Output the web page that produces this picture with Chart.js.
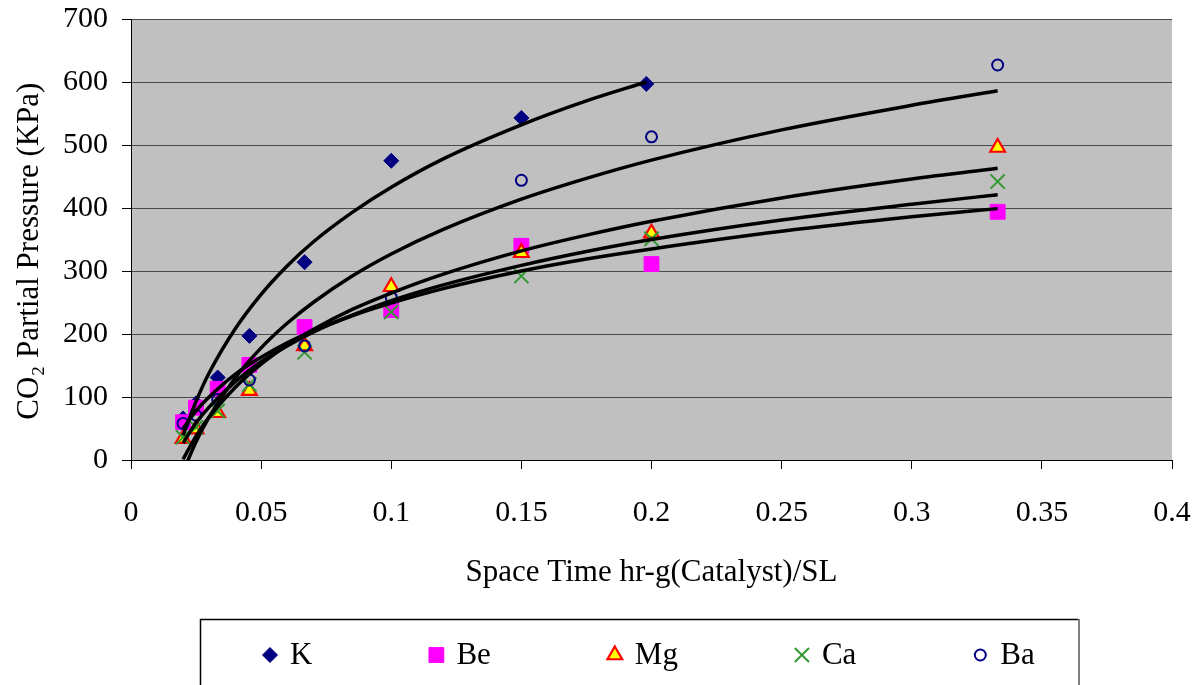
<!DOCTYPE html>
<html><head><meta charset="utf-8">
<script src="https://cdn.jsdelivr.net/npm/chart.js@4.4.0/dist/chart.umd.min.js"></script>
<style>html,body{margin:0;padding:0;background:#fff;overflow:hidden}canvas{display:block}</style>
</head><body>
<canvas id="c" width="1199" height="685"></canvas>
<script>
// ---- data ----
const seriesNames = ['K', 'Be', 'Mg', 'Ca', 'Ba'];
const xK = [0.02, 0.025, 0.0333, 0.0455, 0.0667, 0.1, 0.15, 0.198];
const xOther = [0.02, 0.025, 0.0333, 0.0455, 0.0667, 0.1, 0.15, 0.2, 0.333];
const valK = [66, 90, 131, 197, 314, 475, 543, 597];
const valBe = [60, 83, 113, 151, 211, 238, 340, 311, 394];
const valMg = [34, 49, 75, 110, 181, 275, 329, 360, 496];
const valCa = [36, 52, 78, 120, 171, 235, 292, 351, 442];
const valBa = [58, 71, 96, 127, 181, 258, 444, 513, 627];

// trend lines (logarithmic trend curves)
const trendXK = [0.02, 0.025, 0.03, 0.04, 0.05, 0.06, 0.07, 0.085, 0.1, 0.12, 0.15, 0.175, 0.198];
const trendK = [39, 93, 138, 208, 263, 308, 346, 393, 433, 478, 532, 570, 600];
const trendX = [0.02, 0.025, 0.03, 0.04, 0.05, 0.06, 0.07, 0.085, 0.1, 0.12, 0.15, 0.175, 0.2, 0.25, 0.3, 0.333];
const trendBe = [50, 78, 100, 136, 163, 186, 205, 229, 249, 272, 300, 319, 335, 363, 386, 399];
const trendMg = [1, 38, 68, 115, 152, 182, 207, 239, 265, 295, 332, 357, 379, 416, 446, 463];
const trendCa = [27, 59, 84, 124, 156, 181, 203, 230, 253, 278, 309, 331, 350, 381, 406, 421];
const trendBa = [-19, 29, 68, 130, 178, 217, 250, 292, 327, 366, 414, 447, 476, 524, 563, 586];

const xTickLabels = ['0', '0.05', '0.1', '0.15', '0.2', '0.25', '0.3', '0.35', '0.4'];
const yTickLabels = ['0', '100', '200', '300', '400', '500', '600', '700'];

// ---- build datasets ----
const pts = (xs, ys) => xs.map((x, i) => ({x: x, y: ys[i]}));
const serif = '"Liberation Serif", "Times New Roman", serif';

const seriesStyles = {
  K:  {pointStyle: 'rectRot', pointRadius: 7.5, backgroundColor: '#000080', borderColor: '#000080', borderWidth: 1},
  Be: {pointStyle: 'rect', pointRadius: 10.5, backgroundColor: '#FF00FF', borderColor: '#FF00FF', borderWidth: 1},
  Mg: {pointStyle: 'triangle', pointRadius: 8.5, backgroundColor: '#FFFF00', borderColor: '#FF0000', borderWidth: 2.2},
  Ca: {pointStyle: 'crossRot', pointRadius: 10, backgroundColor: '#339933', borderColor: '#339933', borderWidth: 2},
  Ba: {pointStyle: 'circle', pointRadius: 5.5, backgroundColor: 'rgba(0,0,0,0)', borderColor: '#000080', borderWidth: 2}
};
const seriesData = {
  K: pts(xK, valK), Be: pts(xOther, valBe), Mg: pts(xOther, valMg), Ca: pts(xOther, valCa), Ba: pts(xOther, valBa)
};
const trendData = {
  K: pts(trendXK, trendK), Be: pts(trendX, trendBe), Mg: pts(trendX, trendMg), Ca: pts(trendX, trendCa), Ba: pts(trendX, trendBa)
};

const datasets = [];
seriesNames.forEach((name) => {
  datasets.push({
    label: name + ' trend', data: trendData[name], showLine: true, pointRadius: 0,
    borderColor: '#000000', borderWidth: 3.5, cubicInterpolationMode: 'monotone',
    order: 0, isTrend: true
  });
});
seriesNames.forEach((name, i) => {
  datasets.push(Object.assign({
    label: name, data: seriesData[name], showLine: false, order: 10 - i, isSeries: true
  }, seriesStyles[name]));
});

// ---- plugins ----
const plotBg = {
  id: 'plotBg',
  beforeDraw(chart) {
    const a = chart.chartArea, ctx = chart.ctx;
    ctx.save();
    ctx.fillStyle = '#C0C0C0';
    ctx.fillRect(a.left, a.top, a.right - a.left, a.bottom - a.top);
    ctx.restore();
  }
};

function drawMarker(ctx, st, x, y) {
  ctx.save();
  ctx.fillStyle = st.backgroundColor;
  ctx.strokeStyle = st.borderColor;
  ctx.lineWidth = st.borderWidth;
  if (Chart.helpers && Chart.helpers.drawPoint) {
    Chart.helpers.drawPoint(ctx, {pointStyle: st.pointStyle, radius: st.pointRadius, borderWidth: st.borderWidth, rotation: 0}, x, y);
  }
  ctx.restore();
}

const legendBox = {
  id: 'legendBox',
  afterDraw(chart) {
    const ctx = chart.ctx;
    ctx.save();
    ctx.fillStyle = '#ffffff';
    ctx.fillRect(200, 619, 879, 80);
    ctx.strokeStyle = '#000';
    ctx.lineWidth = 1.5;
    ctx.beginPath();
    ctx.moveTo(200.5, 700); ctx.lineTo(200.5, 619.5); ctx.lineTo(1078.5, 619.5); ctx.stroke();
    ctx.strokeStyle = '#808080';
    ctx.lineWidth = 2;
    ctx.beginPath(); ctx.moveTo(1079, 619); ctx.lineTo(1079, 700); ctx.stroke();
    ctx.font = '31px ' + serif;
    ctx.textBaseline = 'middle';
    ctx.textAlign = 'left';
    let x = 270;
    const y = 655;
    chart.data.datasets.filter(d => d.isSeries).forEach(ds => {
      drawMarker(ctx, ds, x, y);
      ctx.fillStyle = '#000';
      ctx.fillText(ds.label, x + 20, y + 1);
      x += 20 + ctx.measureText(ds.label).width + 124;
    });
    ctx.restore();
  }
};

new Chart(document.getElementById('c'), {
  type: 'scatter',
  data: {datasets: datasets},
  options: {
    responsive: false, animation: false, events: [], devicePixelRatio: 1,
    layout: {padding: {left: 0, right: 27, top: 19, bottom: 85}},
    plugins: {legend: {display: false}, tooltip: {enabled: false}},
    scales: {
      x: {
        type: 'linear', min: 0, max: 0.4,
        ticks: {stepSize: 0.05, autoSkip: false, maxRotation: 0, padding: 26, color: '#000',
          font: {family: serif, size: 30}, callback: (v, i) => xTickLabels[i]},
        grid: {drawOnChartArea: false, tickLength: 9, tickColor: '#000', color: '#000'},
        border: {color: '#000', width: 1},
        title: {display: true, text: 'Space Time hr-g(Catalyst)/SL', color: '#000',
          font: {family: serif, size: 31}, padding: {top: 0, bottom: 9}},
        afterFit: s => { s.height = 140; s.paddingLeft = 0; s.paddingRight = 0; }
      },
      y: {
        type: 'linear', min: 0, max: 700,
        ticks: {stepSize: 100, padding: 14, color: '#000', font: {family: serif, size: 30},
          callback: (v, i) => yTickLabels[i]},
        grid: {color: '#4a4a4a', tickColor: '#000', tickLength: 9, lineWidth: 1},
        border: {color: '#000', width: 1},
        title: {display: true, text: 'CO\u2082 Partial Pressure (KPa)   ', color: '#000',
          font: {family: serif, size: 31}, padding: {top: 11, bottom: 0}},
        afterFit: s => { s.width = 131; s.paddingTop = 0; s.paddingBottom = 0; }
      }
    }
  },
  plugins: [plotBg, legendBox]
});
</script>
</body></html>
